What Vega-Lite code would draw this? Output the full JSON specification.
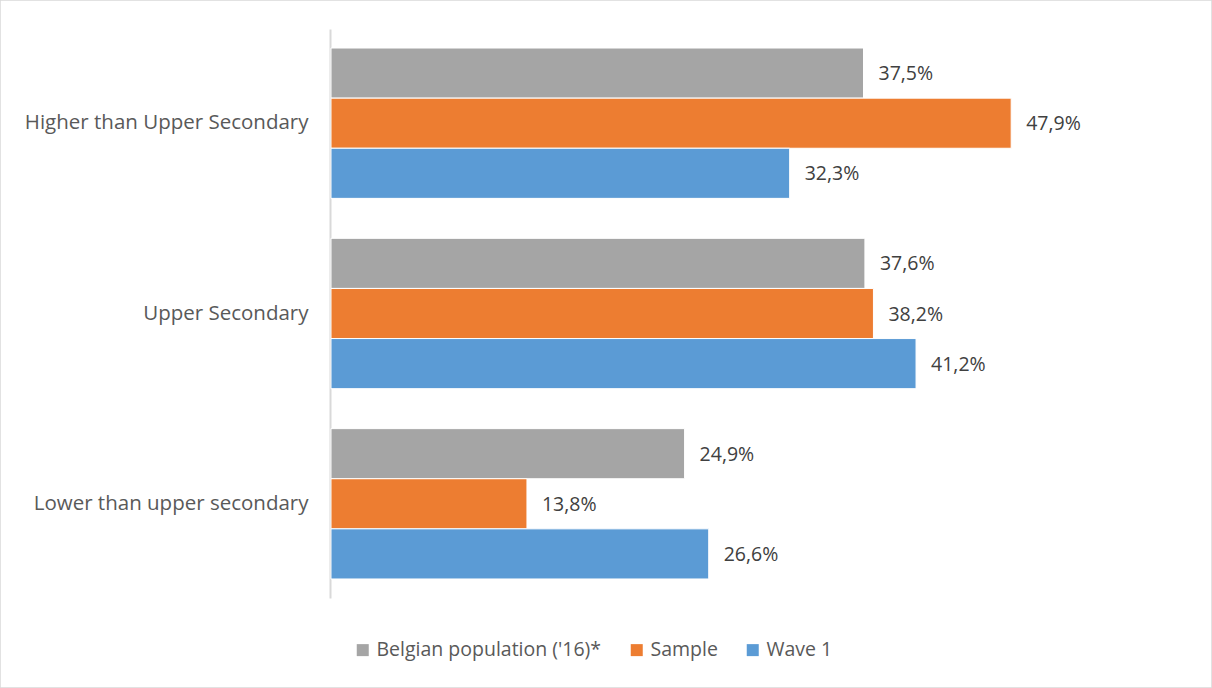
{
  "$schema": "https://vega.github.io/schema/vega-lite/v6.json",
  "width": 1212,
  "height": 688,
  "autosize": {"type": "none"},
  "padding": 0,
  "background": "#ffffff",
  "config": {
    "view": {"stroke": "#d9d9d9", "strokeWidth": 1.5},
    "font": "Open Sans",
    "locale": {
      "number": {
        "decimal": ",",
        "thousands": ".",
        "grouping": [3],
        "currency": ["", " €"],
        "percent": "%"
      }
    }
  },
  "data": {
    "values": [
      {"level": "Higher than Upper Secondary", "series": "Belgian population ('16)*", "share": 0.375},
      {"level": "Higher than Upper Secondary", "series": "Sample", "share": 0.479},
      {"level": "Higher than Upper Secondary", "series": "Wave 1", "share": 0.323},
      {"level": "Upper Secondary", "series": "Belgian population ('16)*", "share": 0.376},
      {"level": "Upper Secondary", "series": "Sample", "share": 0.382},
      {"level": "Upper Secondary", "series": "Wave 1", "share": 0.412},
      {"level": "Lower than upper secondary", "series": "Belgian population ('16)*", "share": 0.249},
      {"level": "Lower than upper secondary", "series": "Sample", "share": 0.138},
      {"level": "Lower than upper secondary", "series": "Wave 1", "share": 0.266}
    ]
  },
  "encoding": {
    "y": {
      "field": "level",
      "type": "nominal",
      "sort": ["Higher than Upper Secondary", "Upper Secondary", "Lower than upper secondary"],
      "scale": {"range": [29, 598], "paddingInner": 0.21, "paddingOuter": 0.1},
      "axis": {
        "title": null,
        "offset": -330,
        "ticks": false,
        "domainColor": "#d9d9d9",
        "domainWidth": 2,
        "labelPadding": 22,
        "labelFontSize": 20.5,
        "labelColor": "#595959",
        "labelFont": "Open Sans",
        "labelLimit": 400
      }
    },
    "yOffset": {
      "field": "series",
      "type": "nominal",
      "sort": ["Belgian population ('16)*", "Sample", "Wave 1"]
    },
    "x": {
      "field": "share",
      "type": "quantitative",
      "scale": {"domain": [0, 0.6], "range": [331, 1183], "zero": true},
      "axis": null
    }
  },
  "layer": [
    {
      "mark": {"type": "bar", "stroke": "#ffffff", "strokeWidth": 1},
      "encoding": {
        "color": {
          "field": "series",
          "type": "nominal",
          "sort": ["Belgian population ('16)*", "Sample", "Wave 1"],
          "scale": {
            "domain": ["Belgian population ('16)*", "Sample", "Wave 1"],
            "range": ["#a5a5a5", "#ed7d31", "#5b9bd5"]
          },
          "legend": {
            "title": null,
            "orient": "none",
            "direction": "horizontal",
            "legendX": 353,
            "legendY": 640,
            "symbolType": "square",
            "symbolSize": 144,
            "symbolStrokeWidth": 0,
            "labelFontSize": 19.5,
            "labelColor": "#595959",
            "labelFont": "Open Sans",
            "labelOffset": 4,
            "columnPadding": 25,
            "labelLimit": 400
          }
        }
      }
    },
    {
      "mark": {"type": "text", "align": "left", "baseline": "middle", "dx": 15, "dy": 1, "fontSize": 19.5, "color": "#404040"},
      "encoding": {
        "text": {"field": "share", "type": "quantitative", "format": ".1%"}
      }
    }
  ]
}
